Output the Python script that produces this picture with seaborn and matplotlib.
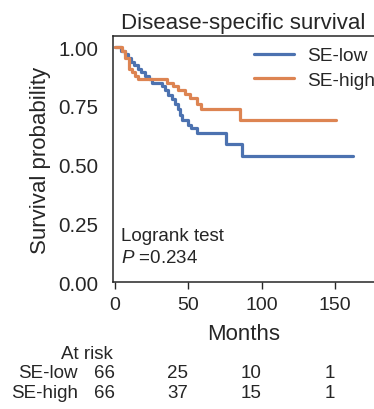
import matplotlib
matplotlib.use('Agg')
import matplotlib.pyplot as plt
import matplotlib.transforms as mtransforms
import seaborn as sns
import pandas as pd

# Courbes de Kaplan-Meier (mois, survie)
temps_low = [0, 3.9, 6.8, 9.0, 11.0, 13.0, 15.5, 18.0, 20.5, 22.8, 25.0,
             31.8, 34.1, 36.4, 38.6, 40.9, 43.2, 44.3, 45.5, 50.0, 52.0, 55.7,
             75.5, 86.4, 162.5]
surv_low = [1.0, 0.985, 0.970, 0.955, 0.939, 0.924, 0.909, 0.894, 0.879, 0.864, 0.848,
            0.834, 0.817, 0.796, 0.780, 0.759, 0.739, 0.712, 0.690, 0.669, 0.655, 0.636,
            0.588, 0.539, 0.539]

temps_high = [0, 4.5, 6.8, 9.5, 11.4, 13.6, 15.9, 35.2, 39.8, 43.2, 47.7, 51.1,
              55.7, 58.5, 85.2, 150.7]
surv_high = [1.0, 0.985, 0.955, 0.909, 0.894, 0.879, 0.864, 0.848, 0.833, 0.818,
             0.803, 0.783, 0.757, 0.737, 0.692, 0.692]

groupes = ['SE-low', 'SE-high']
couleurs = ['#4C72B0', '#DD8452']

# Table "At risk"
temps_risque = [0, 50, 100, 150]
risque_low = [66, 25, 10, 1]
risque_high = [66, 37, 15, 1]

df = pd.concat([
    pd.DataFrame({'mois': temps_low, 'survie': surv_low, 'groupe': groupes[0]}),
    pd.DataFrame({'mois': temps_high, 'survie': surv_high, 'groupe': groupes[1]}),
], ignore_index=True)

sns.set_style('white')
plt.rcParams['font.family'] = ['Liberation Sans', 'DejaVu Sans']
plt.rcParams['mathtext.fontset'] = 'custom'
plt.rcParams['mathtext.it'] = 'Liberation Sans:italic'
plt.rcParams['mathtext.rm'] = 'Liberation Sans'

fig = plt.figure(figsize=(3.74, 4.10), dpi=100)
ax = fig.add_axes([0.303, 0.309, 0.697, 0.601])

sns.lineplot(data=df, x='mois', y='survie', hue='groupe', hue_order=groupes,
             palette=couleurs, estimator=None, sort=False,
             drawstyle='steps-post', linewidth=2.3, ax=ax)

ax.set_xlim(-1.2, 176.6)
ax.set_ylim(0, 1.048)
ax.set_xticks([0, 50, 100, 150])
ax.set_yticks([0, 0.25, 0.5, 0.75, 1.0])
ax.set_yticklabels(['0.00', '0.25', '0.50', '0.75', '1.00'])
ax.tick_params(axis='x', bottom=True, length=5, width=1, pad=5, labelsize=14, colors='#262626')
ax.tick_params(axis='y', left=False, length=0, pad=11, labelsize=14.8, colors='#262626')
for s in ['left', 'bottom', 'top']:
    ax.spines[s].set_color('#262626')
    ax.spines[s].set_linewidth(1.1)
ax.spines['right'].set_visible(False)

ax.set_xlabel('Months', fontsize=16, labelpad=7, color='#262626')
ax.set_ylabel('Survival probability', fontsize=16, labelpad=5, color='#262626')
ax.set_title('Disease-specific survival', fontsize=16, pad=6, color='#262626')

h, l = ax.get_legend_handles_labels()
ax.legend(h, l, loc='upper left', bbox_to_anchor=(0.54, 0.955), frameon=False,
          fontsize=13.8, handlelength=2.1, handletextpad=0.65, borderpad=0,
          borderaxespad=0, labelspacing=0.38)

ax.text(0.03, 0.19, 'Logrank test', transform=ax.transAxes, fontsize=13.5,
        color='#262626', va='center')
ax.text(0.03, 0.10, '$P$ =0.234', transform=ax.transAxes, fontsize=13.5,
        color='#262626', va='center')

# Nombre de sujets à risque
trans = mtransforms.blended_transform_factory(ax.transData, fig.transFigure)
y_titre = 1 - 355 / 410
y_low = 1 - 374 / 410
y_high = 1 - 394 / 410
fig.text(113 / 374, y_titre, 'At risk', ha='right', va='center', fontsize=13.5, color='#262626')
fig.text(78 / 374, y_low, groupes[0], ha='right', va='center', fontsize=13.5, color='#262626')
fig.text(78 / 374, y_high, groupes[1], ha='right', va='center', fontsize=13.5, color='#262626')
for t, n1, n2 in zip(temps_risque, risque_low, risque_high):
    ax.text(t, y_low, str(n1), transform=trans, ha='right', va='center', fontsize=13.5, color='#262626')
    ax.text(t, y_high, str(n2), transform=trans, ha='right', va='center', fontsize=13.5, color='#262626')

fig.savefig('out.png', dpi=100)
